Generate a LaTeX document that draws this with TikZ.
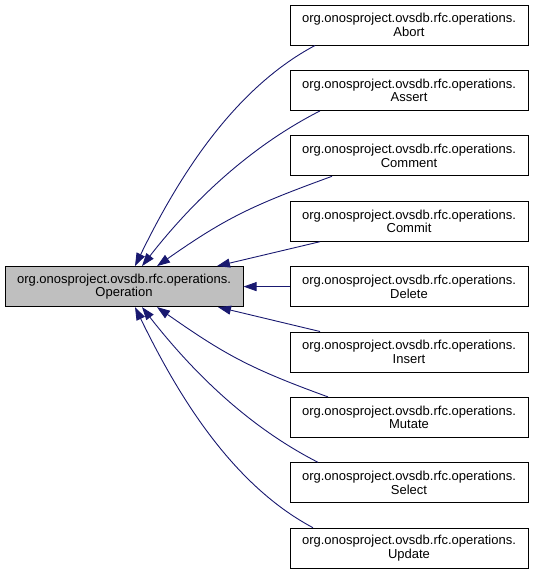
\documentclass[tikz,border=0pt]{standalone}
\usepackage{fontspec}
\setmainfont{Liberation Sans}
\usetikzlibrary{arrows.meta, positioning}
\definecolor{edgeblue}{HTML}{191970}
\definecolor{basegray}{HTML}{BFBFBF}
\tikzset{
  classbox/.style={draw=black, line width=1pt, fill=white, align=center, inner sep=2pt,
    minimum width=238pt, minimum height=40pt, font=\fontsize{13pt}{13.5pt}\selectfont},
  sbase/.style={fill=basegray},
  inheritarrow/.style={-{Triangle[length=13pt, width=9pt]}, line width=0.9pt, edgeblue},
}
\begin{document}
\begin{tikzpicture}[node distance=24.4pt]
  \useasboundingbox (0,0) rectangle (533pt,-573pt);
  \node[classbox] (abort) at (409pt,-25pt) {org.onosproject.ovsdb.rfc.operations.\\Abort};
  \node[classbox, below=of abort] (assert) {org.onosproject.ovsdb.rfc.operations.\\Assert};
  \node[classbox, below=of assert] (comment) {org.onosproject.ovsdb.rfc.operations.\\Comment};
  \node[classbox, below=of comment] (commit) {org.onosproject.ovsdb.rfc.operations.\\Commit};
  \node[classbox, below=of commit] (delete) {org.onosproject.ovsdb.rfc.operations.\\Delete};
  \node[classbox, below=of delete] (insert) {org.onosproject.ovsdb.rfc.operations.\\Insert};
  \node[classbox, below=of insert] (mutate) {org.onosproject.ovsdb.rfc.operations.\\Mutate};
  \node[classbox, below=of mutate] (select) {org.onosproject.ovsdb.rfc.operations.\\Select};
  \node[classbox, below=of select] (update) {org.onosproject.ovsdb.rfc.operations.\\Update};
  \node[classbox, sbase, left=46pt of delete] (op) {org.onosproject.ovsdb.rfc.operations.\\Operation};
  % upper children
  \draw[inheritarrow] ([xshift=-94pt]abort.south) to[out=208, in=64, looseness=0.85] ([xshift=11pt]op.north);
  \draw[inheritarrow] ([xshift=-89pt]assert.south) to[out=207, in=52, looseness=0.87] ([xshift=18pt]op.north);
  \draw[inheritarrow] ([xshift=-77pt]comment.south) to[out=200, in=35, looseness=1.1] ([xshift=33pt]op.north);
  \draw[inheritarrow] ([xshift=-89pt]commit.south) -- ([xshift=93pt]op.north);
  \draw[inheritarrow] (delete) -- (op);
  % lower children
  \draw[inheritarrow] ([xshift=-89pt]insert.north) -- ([xshift=94pt]op.south);
  \draw[inheritarrow] ([xshift=-81pt]mutate.north) to[out=160, in=-35, looseness=1.1] ([xshift=33pt]op.south);
  \draw[inheritarrow] ([xshift=-91pt]select.north) to[out=153, in=-52, looseness=0.87] ([xshift=18pt]op.south);
  \draw[inheritarrow] ([xshift=-96pt]update.north) to[out=152, in=-64, looseness=0.85] ([xshift=11pt]op.south);
\end{tikzpicture}
\end{document}
